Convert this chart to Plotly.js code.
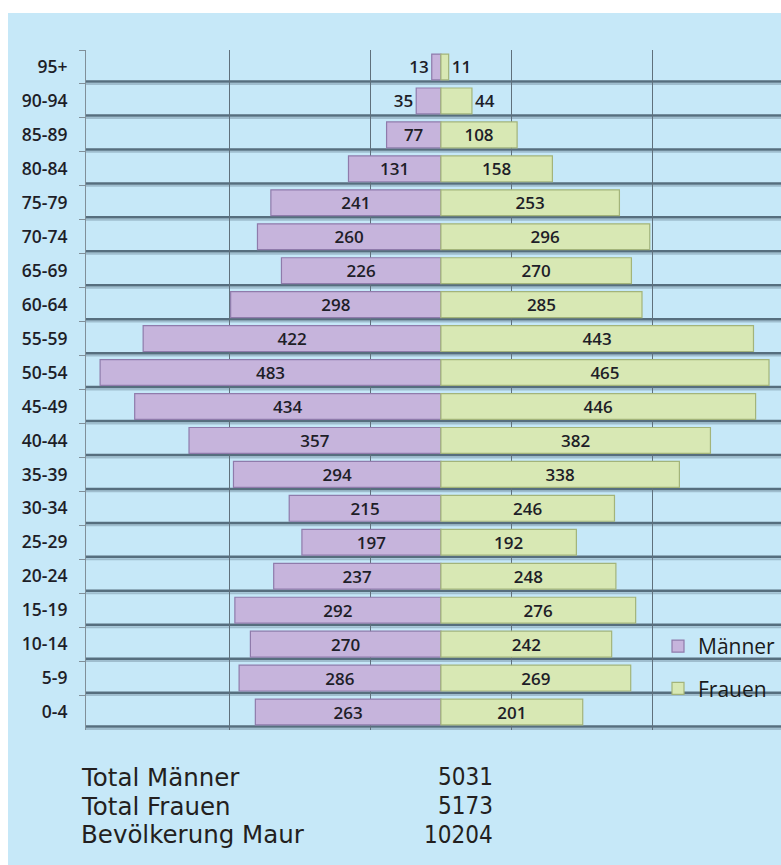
<!DOCTYPE html>
<html>
<head>
<meta charset="utf-8">
<script src="https://cdn.plot.ly/plotly-3.0.1.min.js"></script>
<style>
  html, body { margin: 0; padding: 0; background: #ffffff; }
  #wrap { position: relative; width: 781px; height: 865px; background: #ffffff; overflow: hidden; }
  #chart { position: absolute; left: 8px; top: 13px; width: 773px; height: 852px; }
</style>
</head>
<body>
<div id="wrap"><div id="chart"></div></div>
<script>
// ---- data (top to bottom) ----
const ageGroups = ["95+","90-94","85-89","80-84","75-79","70-74","65-69","60-64","55-59","50-54",
                   "45-49","40-44","35-39","30-34","25-29","20-24","15-19","10-14","5-9","0-4"];
const maenner = [13,35,77,131,241,260,226,298,422,483,434,357,294,215,197,237,292,270,286,263];
const frauen  = [11,44,108,158,253,296,270,285,443,465,446,382,338,246,192,248,276,242,269,201];
const seriesNames = ["Männer","Frauen"];
const totalLabels = ["Total Männer","Total Frauen","Bevölkerung Maur"];
const totalValues = ["5031","5173","10204"];

// ---- layout geometry (page pixels) ----
const divLeft = 8, divTop = 13, W = 773, H = 852;
const mL = 78, mT = 37, mR = 0, mB = 135;
const plotW = W - mL - mR, plotH = H - mT - mB;
const px2x = px => (px - divLeft - mL) / plotW;
const px2y = py => 1 - (py - divTop - mT) / plotH;

const labelFont = {family: "Open Sans", size: 17, color: "#1e1e28", weight: 600};
const tickFont = {family: "Open Sans", size: 17.5, color: "#1e1e28", weight: 600};
const posFor = v => (v < 50 ? "outside" : "inside");

const traceM = {
  type: "bar", orientation: "h", name: seriesNames[0], legendgroup: "m",
  y: ageGroups, x: maenner.map(v => -v), text: maenner.map(String),
  textposition: maenner.map(posFor), insidetextanchor: "middle",
  textfont: labelFont, insidetextfont: labelFont, outsidetextfont: labelFont,
  constraintext: "none", cliponaxis: false, textangle: 0,
  marker: {color: "#c6b4dc", line: {color: "#8f7bab", width: 1.2}},
  hoverinfo: "skip"
};
const traceF = {
  type: "bar", orientation: "h", name: seriesNames[1], legendgroup: "f",
  y: ageGroups, x: frauen, text: frauen.map(String),
  textposition: frauen.map(posFor), insidetextanchor: "middle",
  textfont: labelFont, insidetextfont: labelFont, outsidetextfont: labelFont,
  constraintext: "none", cliponaxis: false, textangle: 0,
  marker: {color: "#d8e8b4", line: {color: "#a3b47a", width: 1.2}},
  hoverinfo: "skip"
};

// horizontal "floor" lines under each row
const shapes = [];
ageGroups.forEach((g, i) => {
  shapes.push({type: "line", xref: "paper", yref: "y", x0: 0, x1: 1, y0: i + 0.5, y1: i + 0.5,
               line: {color: "rgba(85,110,128,0.35)", width: 2}, layer: "below"});
  shapes.push({type: "line", xref: "paper", yref: "y", x0: 0, x1: 1, y0: i + 0.43, y1: i + 0.43,
               line: {color: "#566e7e", width: 2.5}, layer: "below"});
});

const annotations = [];
const totalRows = [777, 806, 835];
totalLabels.forEach((t, i) => {
  annotations.push({xref: "paper", yref: "paper", x: px2x(79), y: px2y(totalRows[i]),
    xanchor: "left", yanchor: "middle", showarrow: false, text: t,
    font: {family: "DejaVu Sans", size: 24.5, color: "#231f20"}});
  annotations.push({xref: "paper", yref: "paper", x: px2x(495), y: px2y(totalRows[i]),
    xanchor: "right", yanchor: "middle", showarrow: false, text: totalValues[i],
    font: {family: "DejaVu Sans Condensed, DejaVu Sans", size: 24, color: "#231f20"}});
});

const layout = {
  width: W, height: H,
  margin: {l: mL, r: mR, t: mT, b: mB, pad: 0, autoexpand: false},
  paper_bgcolor: "#c6e8f8", plot_bgcolor: "rgba(0,0,0,0)",
  barmode: "relative", bargap: 0.24,
  showlegend: true,
  legend: {x: 1, y: px2y(626), xanchor: "right", yanchor: "top",
           bgcolor: "rgba(0,0,0,0)", borderwidth: 0, tracegroupgap: 12,
           font: {family: "Open Sans", size: 21, color: "#1a1a1a"}},
  xaxis: {range: [-503, 482], tickvals: [-300, -100, 100, 300], showticklabels: false,
          showgrid: true, gridcolor: "#5f707c", gridwidth: 1, zeroline: false,
          showline: false, fixedrange: true},
  yaxis: {type: "category", autorange: "reversed", showgrid: false, zeroline: false,
          showline: true, linecolor: "#808f99", linewidth: 1,
          ticks: "outside", tickson: "boundaries", ticklen: 6, tickcolor: "#808f99",
          ticklabelstandoff: 14,
          tickfont: tickFont, fixedrange: true},
  shapes: shapes,
  annotations: annotations
};

Plotly.newPlot("chart", [traceM, traceF], layout, {displayModeBar: false, staticPlot: true});
</script>
</body>
</html>
